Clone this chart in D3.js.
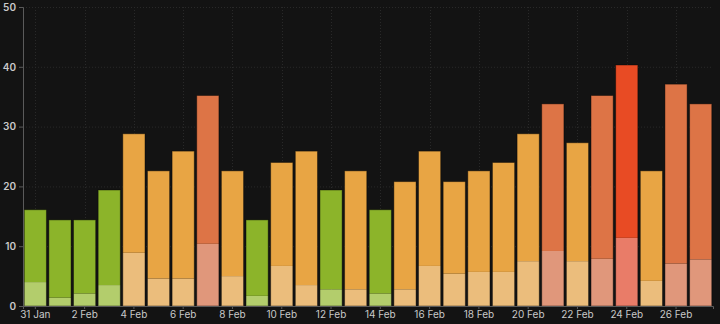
<!DOCTYPE html>
<html>
<head>
<meta charset="utf-8">
<script src="https://cdn.jsdelivr.net/npm/d3@7"></script>
<style>
  html, body { margin: 0; padding: 0; background: #131313; }
  svg { display: block; }
</style>
</head>
<body>
<svg id="chart" width="720" height="324"></svg>
<script>
// Daily values, 31 Jan – 27 Feb
const days = ["31 Jan", "1 Feb", "2 Feb", "3 Feb", "4 Feb", "5 Feb", "6 Feb", "7 Feb", "8 Feb", "9 Feb",
  "10 Feb", "11 Feb", "12 Feb", "13 Feb", "14 Feb", "15 Feb", "16 Feb", "17 Feb", "18 Feb", "19 Feb",
  "20 Feb", "21 Feb", "22 Feb", "23 Feb", "24 Feb", "25 Feb", "26 Feb", "27 Feb"];
// lower (light) segment of each bar
const baseValues = [4.0, 1.4, 2.1, 3.5, 8.9, 4.6, 4.6, 10.4, 5.0, 1.7,
  6.7, 3.5, 2.8, 2.8, 2.1, 2.8, 6.7, 5.4, 5.7, 5.7,
  7.5, 9.2, 7.5, 7.9, 11.4, 4.2, 7.1, 7.8];
// bar totals
const totalValues = [16.1, 14.4, 14.4, 19.4, 28.8, 22.6, 25.9, 35.2, 22.6, 14.4,
  24.0, 25.9, 19.4, 22.6, 16.1, 20.8, 25.9, 20.8, 22.6, 24.0,
  28.8, 33.8, 27.3, 35.2, 40.3, 22.6, 37.1, 33.8];
const yTicks = [0, 10, 20, 30, 40, 50];
const xTickLabels = ["31 Jan", "2 Feb", "4 Feb", "6 Feb", "8 Feb", "10 Feb", "12 Feb",
  "14 Feb", "16 Feb", "18 Feb", "20 Feb", "22 Feb", "24 Feb", "26 Feb"];

// colour bands by total: [upper, lower]
const thresholds = [20, 30, 40];
const upperColors = ["#8cb42a", "#e8a544", "#dd7446", "#e84b24"];
const lowerColors = ["#b3cd6c", "#ebbd7c", "#e0977b", "#e97c68"];

const rows = days.map((d, i) => ({ day: d, base: baseValues[i], rest: totalValues[i] - baseValues[i], total: totalValues[i] }));

const svg = d3.select("#chart");
const margin = { left: 23, right: 7, top: 7, bottom: 18 };
const W = 720, H = 324;

const x = d3.scaleBand().domain(days).range([margin.left, W - margin.right]).paddingInner(0.1).paddingOuter(0.05);
const y = d3.scaleLinear().domain([0, 50]).range([H - margin.bottom, margin.top]);
const band = d3.scaleThreshold().domain(thresholds).range([0, 1, 2, 3]);

// grid
const grid = svg.append("g").attr("stroke", "#292929").attr("stroke-dasharray", "1,2");
grid.selectAll("line.h").data(yTicks.slice(1)).join("line")
  .attr("x1", margin.left).attr("x2", W - margin.right)
  .attr("y1", d => y(d) + 0.5).attr("y2", d => y(d) + 0.5);
grid.selectAll("line.v").data(xTickLabels).join("line")
  .attr("x1", d => Math.round(x(d) + x.bandwidth() / 2) + 0.5)
  .attr("x2", d => Math.round(x(d) + x.bandwidth() / 2) + 0.5)
  .attr("y1", margin.top).attr("y2", H - margin.bottom);

// stacked bars
const stack = d3.stack().keys(["base", "rest"]);
const series = stack(rows);
svg.append("g").selectAll("g").data(series).join("g")
  .selectAll("rect").data((s, si) => s.map(p => ({ p, si })))
  .join("rect")
  .attr("x", d => x(d.p.data.day))
  .attr("width", x.bandwidth())
  .attr("y", d => y(d.p[1]))
  .attr("height", d => y(d.p[0]) - y(d.p[1]))
  .attr("fill", d => (d.si === 0 ? lowerColors : upperColors)[band(d.p.data.total)]);

// dark outline around each whole bar
svg.append("g").selectAll("rect").data(rows).join("rect")
  .attr("x", d => x(d.day))
  .attr("width", x.bandwidth())
  .attr("y", d => y(d.total))
  .attr("height", d => y(0) - y(d.total))
  .attr("fill", "none")
  .attr("stroke", "rgba(0,0,0,0.4)")
  .attr("stroke-width", 1);

// axes
const font = "Inter, 'DejaVu Sans', sans-serif";
const yAxis = svg.append("g").attr("transform", `translate(${margin.left},0)`)
  .call(d3.axisLeft(y).tickValues(yTicks).tickSize(4).tickPadding(3));
const xAxis = svg.append("g").attr("transform", `translate(0,${H - margin.bottom})`)
  .call(d3.axisBottom(x).tickValues(xTickLabels).tickSize(3).tickPadding(2));
[yAxis, xAxis].forEach(a => {
  a.select(".domain").attr("stroke", "#5a5a5a");
  a.selectAll(".tick line").attr("stroke", "#5a5a5a");
  a.selectAll("text").attr("fill", "#c9c9c9").attr("font-family", font).attr("font-size", 10);
});
yAxis.selectAll("text").attr("font-weight", 600);
</script>
</body>
</html>
